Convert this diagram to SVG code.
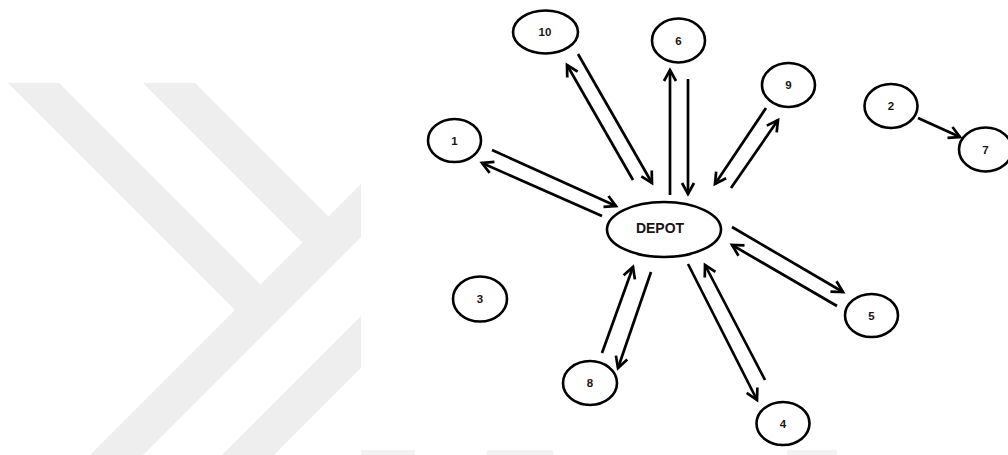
<svg xmlns="http://www.w3.org/2000/svg" width="1008" height="455" viewBox="0 0 1008 455">
  <defs>
    <style>
      .node ellipse { fill: #ffffff; stroke: #000000; stroke-width: 2.6; }
      .node text { font-family: "Liberation Sans", Arial, sans-serif; font-weight: bold; font-size: 11.5px; fill: #161616; text-anchor: middle; }
      #depot text { font-size: 14px; }
      .edge { stroke: #000000; stroke-width: 2.7; fill: none; marker-end: url(#arrow); }
      .mark { fill: #eeeeee; }
      .strip { fill: #f3f3f3; }
    </style>
    <marker id="arrow" markerUnits="userSpaceOnUse" viewBox="-14 -9 18 18" refX="0" refY="0" markerWidth="18" markerHeight="18" orient="auto">
      <path d="M-11,-6 L0,0 L-11,6" fill="none" stroke="#000000" stroke-width="2.7" stroke-linejoin="miter"/>
    </marker>
    <clipPath id="markClip">
      <rect x="0" y="83" width="361" height="372"/>
    </clipPath>
  </defs>

  <rect x="0" y="0" width="1008" height="455" fill="#ffffff"/>

  <!-- background chevron bands -->
  <g id="backdrop" clip-path="url(#markClip)">
    <polygon class="mark" points="8,83 59,83 268,292 243,318"/>
    <polygon class="mark" points="143,83 195,83 336,224 310,250"/>
    <polygon class="mark" points="361,184 361,237 143,455 90,455"/>
    <polygon class="mark" points="361,316 361,368 274,455 222,455"/>
  </g>
  <g id="backdrop-strip">
    <rect class="strip" x="361" y="450" width="54" height="5"/>
    <rect class="strip" x="487" y="450" width="66" height="5"/>
    <rect class="strip" x="787" y="450" width="50" height="5"/>
  </g>

  <!-- connectors -->
  <g id="connectors">
    <line class="edge" x1="578" y1="54" x2="652" y2="183"/>
    <line class="edge" x1="633" y1="180" x2="567" y2="65"/>
    <line class="edge" x1="670" y1="195" x2="670" y2="70"/>
    <line class="edge" x1="688" y1="79" x2="688" y2="194"/>
    <line class="edge" x1="492" y1="150" x2="616" y2="206"/>
    <line class="edge" x1="602" y1="216" x2="482" y2="163"/>
    <line class="edge" x1="766" y1="108" x2="715" y2="184"/>
    <line class="edge" x1="731" y1="188" x2="778" y2="120"/>
    <line class="edge" x1="732" y1="227" x2="843" y2="292"/>
    <line class="edge" x1="837" y1="306" x2="732" y2="245"/>
    <line class="edge" x1="602" y1="353" x2="633" y2="267"/>
    <line class="edge" x1="651" y1="272" x2="618" y2="368"/>
    <line class="edge" x1="688" y1="264" x2="757" y2="400"/>
    <line class="edge" x1="765" y1="380" x2="705" y2="265"/>
    <line class="edge" x1="918" y1="118" x2="960" y2="137"/>
  </g>

  <!-- nodes -->
  <g id="depot" class="node">
    <ellipse cx="664" cy="229.5" rx="57" ry="27.5"/>
    <text x="660" y="232.5">DEPOT</text>
  </g>
  <g id="n1" class="node">
    <ellipse cx="454.5" cy="140.5" rx="26.5" ry="21.5"/>
    <text x="454.5" y="144.5">1</text>
  </g>
  <g id="n2" class="node">
    <ellipse cx="891" cy="106" rx="26.5" ry="22"/>
    <text x="891" y="110">2</text>
  </g>
  <g id="n3" class="node">
    <ellipse cx="480" cy="299" rx="27" ry="22.5"/>
    <text x="480" y="303">3</text>
  </g>
  <g id="n4" class="node">
    <ellipse cx="783" cy="423.5" rx="26.5" ry="21.5"/>
    <text x="783" y="427.5">4</text>
  </g>
  <g id="n5" class="node">
    <ellipse cx="871.5" cy="315.5" rx="26.5" ry="21.5"/>
    <text x="871.5" y="319.5">5</text>
  </g>
  <g id="n6" class="node">
    <ellipse cx="678.5" cy="40.5" rx="26.5" ry="22"/>
    <text x="678.5" y="44.5">6</text>
  </g>
  <g id="n7" class="node">
    <ellipse cx="985.5" cy="149.5" rx="26.5" ry="22"/>
    <text x="985.5" y="153.5">7</text>
  </g>
  <g id="n8" class="node">
    <ellipse cx="590" cy="383" rx="27" ry="22"/>
    <text x="590" y="387">8</text>
  </g>
  <g id="n9" class="node">
    <ellipse cx="788.5" cy="85" rx="26.5" ry="22"/>
    <text x="788.5" y="89">9</text>
  </g>
  <g id="n10" class="node">
    <ellipse cx="545.5" cy="32" rx="32.5" ry="21.5"/>
    <text x="545" y="36">10</text>
  </g>
</svg>
